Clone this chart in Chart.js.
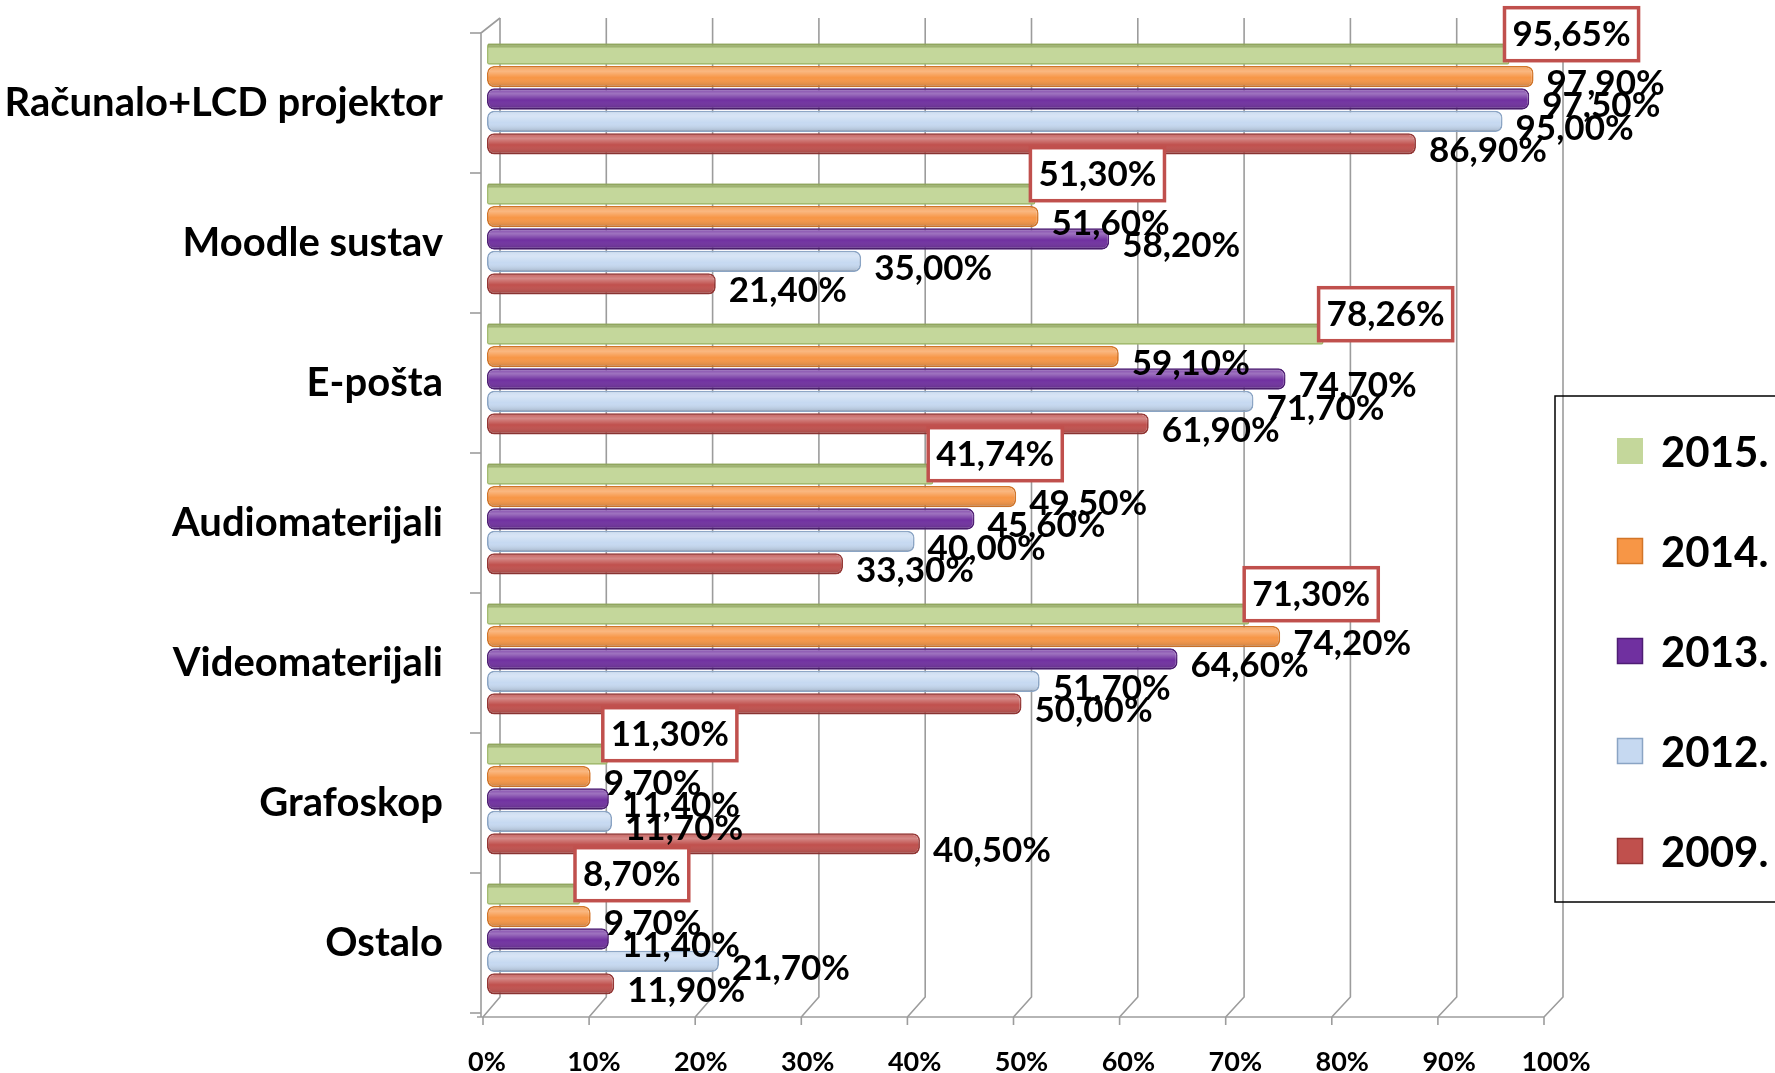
<!DOCTYPE html>
<html>
<head>
<meta charset="utf-8">
<script src="https://cdn.jsdelivr.net/npm/chart.js@4.4.1/dist/chart.umd.min.js"></script>
<style>
html,body{margin:0;padding:0;background:#fff;}
canvas{display:block;}
</style>
</head>
<body>
<canvas id="c" width="1775" height="1073"></canvas>
<script>
const categories = ['Računalo+LCD projektor','Moodle sustav','E-pošta','Audiomaterijali','Videomaterijali','Grafoskop','Ostalo'];
const seriesNames = ['2015.','2014.','2013.','2012.','2009.'];
const v2015 = [95.65, 51.30, 78.26, 41.74, 71.30, 11.30, 8.70];
const v2014 = [97.90, 51.60, 59.10, 49.50, 74.20, 9.70, 9.70];
const v2013 = [97.50, 58.20, 74.70, 45.60, 64.60, 11.40, 11.40];
const v2012 = [95.00, 35.00, 71.70, 40.00, 51.70, 11.70, 21.70];
const v2009 = [86.90, 21.40, 61.90, 33.30, 50.00, 40.50, 11.90];
const tickValues = [0,10,20,30,40,50,60,70,80,90,100];

const FONT = 'Lato';
const fills   = ['#c4d79b','#f79646','#7030a0','#c6d9f1','#c0504d'];
const borders = ['#a3bb70','#d27528','#4e1d74','#8aa4c4','#943634'];
const allValues = [v2015, v2014, v2013, v2012, v2009];

function fmt(v){ return v.toFixed(2).replace('.', ',') + '%'; }

const LIFT = -4; // perspective lift of the bar groups

const deco = {
  id:'deco',
  beforeDatasetsDraw(chart){
    const ctx = chart.ctx, xs = chart.scales.x, a = chart.chartArea;
    const dep = 20;
    const floorY = a.bottom + 4;
    const backBottom = floorY - dep;
    const topY = a.top - 15;
    const front = v => xs.getPixelForValue(v) - 4 - 0.08*v;
    const back = v => front(v) + 17 + 0.02*v;
    ctx.save();
    ctx.strokeStyle = '#9c9c9c';
    ctx.lineWidth = 1.6;
    tickValues.forEach(v=>{
      const fx = front(v), bx = back(v);
      ctx.beginPath();
      ctx.moveTo(bx, topY); ctx.lineTo(bx, backBottom); ctx.lineTo(fx, floorY);
      ctx.stroke();
      ctx.beginPath(); ctx.moveTo(fx, floorY); ctx.lineTo(fx, floorY+8); ctx.stroke();
    });
    ctx.beginPath(); ctx.moveTo(front(0)-6, floorY); ctx.lineTo(front(100), floorY); ctx.stroke();
    const lx = front(0) - 2;
    ctx.beginPath(); ctx.moveTo(lx, floorY); ctx.lineTo(lx, a.top); ctx.lineTo(back(0), topY); ctx.stroke();
    const n = categories.length;
    const band = (a.bottom - a.top)/n;
    for(let i=0;i<=n;i++){
      const y = a.top + i*band;
      ctx.beginPath(); ctx.moveTo(lx-11, y); ctx.lineTo(lx, y); ctx.stroke();
    }
    ctx.restore();
    ctx.save();
    ctx.translate(0, LIFT);
  },
  afterDatasetsDraw(chart){
    const ctx = chart.ctx;
    ctx.save();
    chart.data.datasets.forEach((ds, di)=>{
      chart.getDatasetMeta(di).data.forEach(el=>{
        const h = el.height, top = el.y - h/2, left = el.base, w = el.x - el.base;
        if(di===0){
          // darker top face of the flat green bars
          ctx.fillStyle = 'rgba(130,150,80,0.55)';
          ctx.fillRect(left+1, top, Math.max(0, w-2), 4);
          return;
        }
        const g = ctx.createLinearGradient(0, top, 0, top+h);
        g.addColorStop(0, 'rgba(255,255,255,0.10)');
        g.addColorStop(0.25, 'rgba(255,255,255,0.32)');
        g.addColorStop(0.55, 'rgba(255,255,255,0.0)');
        g.addColorStop(1, 'rgba(0,0,0,0.20)');
        ctx.fillStyle = g;
        ctx.beginPath();
        if(ctx.roundRect) ctx.roundRect(left+1, top+1, w-2, h-2, 7); else ctx.rect(left+1, top+1, w-2, h-2);
        ctx.fill();
      });
    });
    ctx.font = 'bold 35px ' + FONT;
    ctx.fillStyle = '#000';
    ctx.textAlign = 'left';
    ctx.textBaseline = 'middle';
    for(let di=1; di<chart.data.datasets.length; di++){
      const ds = chart.data.datasets[di];
      chart.getDatasetMeta(di).data.forEach((el,i)=>{
        ctx.fillText(fmt(ds.data[i]), el.x + 13, el.y + 7);
      });
    }
    const ds0 = chart.data.datasets[0];
    chart.getDatasetMeta(0).data.forEach((el,i)=>{
      const t = fmt(ds0.data[i]);
      const w = ctx.measureText(t).width + 16, h = 53;
      const bx = el.x - 5, by = el.y - 20 - h/2;
      ctx.fillStyle = '#fff';
      ctx.fillRect(bx, by, w, h);
      ctx.strokeStyle = '#c0504d';
      ctx.lineWidth = 3.5;
      ctx.strokeRect(bx, by, w, h);
      ctx.fillStyle = '#000';
      ctx.textAlign = 'center';
      ctx.fillText(t, bx + w/2, by + h/2 + 1);
    });
    ctx.restore();
    ctx.restore(); // undo LIFT
  },
  afterDraw(chart){
    const ctx = chart.ctx;
    ctx.save();
    const L = 1555, T = 396, B = 902;
    ctx.strokeStyle = '#000'; ctx.lineWidth = 1.5;
    ctx.strokeRect(L, T, 400, B - T);
    ctx.font = 'bold 42px ' + FONT;
    ctx.textAlign = 'left'; ctx.textBaseline = 'middle';
    chart.data.datasets.forEach((ds, di)=>{
      const y = 451 + di*100;
      ctx.fillStyle = ds.backgroundColor;
      ctx.fillRect(1617, y-13, 26, 26);
      if(di>0){ ctx.strokeStyle = ds.borderColor; ctx.lineWidth = 1.5; ctx.strokeRect(1617.5, y-12.5, 25, 25); }
      ctx.fillStyle = '#000';
      ctx.fillText(ds.label, 1661, y + 2);
    });
    ctx.restore();
  }
};

function noPad(s){ s.paddingTop = 0; s.paddingBottom = 0; s.paddingLeft = 0; s.paddingRight = 0; }

new Chart(document.getElementById('c'), {
  type:'bar',
  data:{
    labels: categories,
    datasets: allValues.map((vals, i)=>({
      label: seriesNames[i],
      data: vals,
      backgroundColor: fills[i],
      borderColor: borders[i],
      borderWidth: 1.8,
      borderSkipped: false,
      borderRadius: i === 0 ? 2 : 7,
      categoryPercentage: 0.8,
      barPercentage: 0.95
    }))
  },
  options:{
    indexAxis:'y',
    responsive:false,
    animation:false,
    devicePixelRatio:1,
    layout:{padding:{top:33, right:219, left:0, bottom:0}},
    plugins:{legend:{display:false}, tooltip:{enabled:false}},
    scales:{
      x:{
        min:0, max:100,
        ticks:{stepSize:10, callback:v=>v+'%', color:'#000', padding:33,
               font:{family:FONT, size:27, weight:'bold'}, maxRotation:0, autoSkip:false},
        grid:{display:false, drawTicks:false},
        border:{display:false},
        afterFit(s){ s.height = 60; noPad(s); }
      },
      y:{
        ticks:{color:'#000', padding:44, font:{family:FONT, size:40, weight:'bold'}},
        grid:{display:false, drawTicks:false},
        border:{display:false},
        afterFit(s){ s.width = 487; noPad(s); }
      }
    }
  },
  plugins:[deco]
});
</script>
</body>
</html>
